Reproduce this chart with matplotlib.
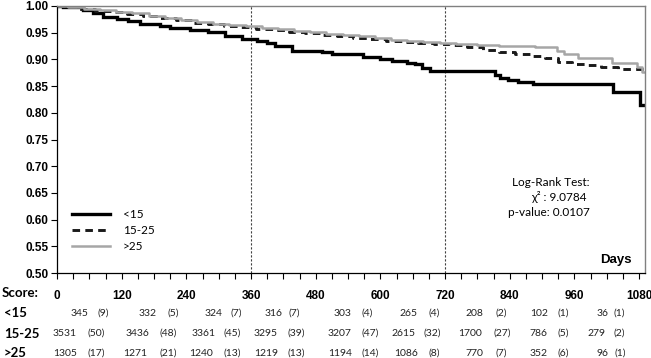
import matplotlib
matplotlib.use("Agg")
import matplotlib.pyplot as plt
import matplotlib.transforms as mtransforms
import numpy as np

# ---------------- data ----------------
groups = ["<15", "15-25", ">25"]

days_lt15 = [0, 11, 48, 67, 85, 111, 132, 154, 191, 210, 247, 280, 312, 343, 371, 390, 405,
             436, 492, 510, 568, 599, 622, 650, 664, 677, 692, 813, 822, 837, 855, 883,
             1032, 1082, 1091]
surv_lt15 = [1.000, 0.998, 0.992, 0.987, 0.979, 0.975, 0.972, 0.966, 0.962, 0.958, 0.955,
             0.951, 0.943, 0.938, 0.934, 0.930, 0.925, 0.915, 0.913, 0.911, 0.904, 0.900,
             0.897, 0.893, 0.891, 0.883, 0.879, 0.870, 0.866, 0.862, 0.858, 0.853,
             0.839, 0.815, 0.815]

days_mid = [0, 15, 40, 70, 100, 130, 160, 190, 220, 250, 280, 310, 340, 370, 400, 430, 460,
            490, 520, 550, 580, 610, 640, 670, 700, 730, 760, 790, 820, 850, 880, 905, 930,
            955, 985, 1010, 1040, 1091]
surv_mid = [1.000, 0.998, 0.995, 0.991, 0.988, 0.985, 0.981, 0.977, 0.973, 0.969, 0.966,
            0.963, 0.960, 0.957, 0.955, 0.952, 0.949, 0.946, 0.943, 0.940, 0.938, 0.935,
            0.933, 0.931, 0.929, 0.927, 0.923, 0.918, 0.914, 0.911, 0.907, 0.902, 0.896,
            0.892, 0.889, 0.885, 0.882, 0.882]

days_gt25 = [0, 20, 50, 80, 110, 140, 170, 200, 230, 260, 290, 320, 350, 380, 410, 440, 470,
             500, 530, 560, 590, 620, 650, 680, 710, 740, 780, 820, 887, 927, 940, 967,
             1029, 1076, 1085, 1091]
surv_gt25 = [1.000, 0.998, 0.995, 0.992, 0.989, 0.986, 0.982, 0.978, 0.974, 0.970, 0.967,
             0.964, 0.962, 0.959, 0.956, 0.954, 0.951, 0.948, 0.946, 0.943, 0.940, 0.937,
             0.935, 0.933, 0.931, 0.929, 0.927, 0.926, 0.923, 0.916, 0.911, 0.903,
             0.894, 0.886, 0.877, 0.877]

table_times = [0, 120, 240, 360, 480, 600, 720, 840, 960]
risk_lt15 = [345, 332, 324, 316, 303, 265, 208, 102, 36]
events_lt15 = [9, 5, 7, 7, 4, 4, 2, 1, 1]
risk_mid = [3531, 3436, 3361, 3295, 3207, 2615, 1700, 786, 279]
events_mid = [50, 48, 45, 39, 47, 32, 27, 5, 2]
risk_gt25 = [1305, 1271, 1240, 1219, 1194, 1086, 770, 352, 96]
events_gt25 = [17, 21, 13, 13, 14, 8, 7, 6, 1]

xtick_labels = [0, 120, 240, 360, 480, 600, 720, 840, 960, 1080]
ytick_values = [0.50, 0.55, 0.60, 0.65, 0.70, 0.75, 0.80, 0.85, 0.90, 0.95, 1.00]
ref_days = [360, 720]
chi2 = 9.0784
pvalue = 0.0107

# ---------------- layout ----------------
W, H = 651, 358
fig = plt.figure(figsize=(W / 100, H / 100), dpi=100)
ax_left, ax_right, ax_top, ax_bottom = 57, 645, 6, 273
ax = fig.add_axes([ax_left / W, 1 - ax_bottom / H, (ax_right - ax_left) / W,
                   (ax_bottom - ax_top) / H])

tick_font = dict(family="Liberation Sans", weight="bold", size=8.5)
cal = ["Lato", "DejaVu Sans"]

ax.step(days_lt15, surv_lt15, where="post", color="black", lw=2.4, label=groups[0],
        solid_joinstyle="miter")
ax.step(days_mid, surv_mid, where="post", color="#1a1a1a", lw=2.1, dashes=(2.6, 1.8),
        label=groups[1])
ax.step(days_gt25, surv_gt25, where="post", color="#a6a6a6", lw=1.8, label=groups[2])

for d in ref_days:
    ax.axvline(d, color="#404040", lw=0.8, ls=(0, (2.0, 1.6)), zorder=0)

ax.set_xlim(0, 1091)
ax.set_ylim(0.5, 1.0)
ax.set_xticks(xtick_labels)
ax.set_xticks(np.arange(30, 1081, 30), minor=True)
ax.set_xticklabels([str(v) for v in xtick_labels], fontdict=tick_font)
ax.set_yticks(ytick_values)
ax.set_yticklabels([f"{v:.2f}" for v in ytick_values], fontdict=tick_font)
ax.tick_params(axis="x", which="both", direction="out", length=4, width=0.8, pad=8.5,
               color="black")
ax.tick_params(axis="y", direction="out", length=4.5, width=0.8, pad=1.5, color="black")

for s in ["top", "right"]:
    ax.spines[s].set_color("#808080")
    ax.spines[s].set_linewidth(1.0)
for s in ["left", "bottom"]:
    ax.spines[s].set_color("black")
    ax.spines[s].set_linewidth(0.9)

# legend
leg = ax.legend(loc="upper left", bbox_to_anchor=(72 / W, 1 - 209 / H),
                bbox_transform=fig.transFigure, frameon=False, borderpad=0,
                borderaxespad=0, handlelength=3.2, handletextpad=1.1,
                labelspacing=0.42, prop=dict(family=cal, size=8.5))

# annotations
ax.text((632 - ax_left) / (ax_right - ax_left), (ax_bottom - 260) / (ax_bottom - ax_top),
        "Days", transform=ax.transAxes, ha="right", va="center",
        family="Liberation Sans", weight="bold", size=9.5)
stat_lines = ["Log-Rank Test:", f"\u03c7\u00b2 : {chi2:.4f}", f"p-value: {pvalue:.4f}"]
stat_y = [183, 197, 212]
stat_x = [590, 587, 590]
for txt, yy, xx in zip(stat_lines, stat_y, stat_x):
    ax.text((xx - ax_left) / (ax_right - ax_left), (ax_bottom - yy) / (ax_bottom - ax_top),
            txt, transform=ax.transAxes, ha="right", va="center", family=cal, size=8.5)

# risk table
fig.text(2 / W, 1 - 293 / H, "Score:", ha="left", va="center", family=cal,
         weight="bold", size=9.5)
row_y = [313, 333.5, 353]
rows = [(risk_lt15, events_lt15), (risk_mid, events_mid), (risk_gt25, events_gt25)]
num_off = [[31, 35, 36, 32, 36, 37, 38, 38, 34],
           [20, 28, 29, 27, 36, 35, 37, 38, 31],
           [20, 25, 27, 27, 36, 38, 38, 38, 34]]
par_off = [[40, 46, 44, 37, 46, 48, 50, 48, 39],
           [31, 38, 37, 36, 46, 43, 48, 48, 39],
           [31, 38, 37, 36, 46, 48, 50, 48, 40]]
blend = mtransforms.blended_transform_factory(ax.transData, fig.transFigure)
for r, (name, (risk, ev), yy) in enumerate(zip(groups, rows, row_y)):
    fig.text(4 / W, 1 - yy / H, name, ha="left", va="center", family=cal,
             weight="bold", size=9.5)
    for c, (t, n, e) in enumerate(zip(table_times, risk, ev)):
        tr_n = mtransforms.offset_copy(blend, fig=fig, x=num_off[r][c], y=0, units="dots")
        tr_p = mtransforms.offset_copy(blend, fig=fig, x=par_off[r][c], y=0, units="dots")
        ax.text(t, 1 - yy / H, str(n), transform=tr_n, ha="right", va="center",
                family=cal, size=7.5, color="#222222", clip_on=False)
        ax.text(t, 1 - yy / H, f"({e})", transform=tr_p, ha="left", va="center",
                family=cal, size=7.5, color="#222222", clip_on=False)

fig.savefig("out.png", dpi=100)
